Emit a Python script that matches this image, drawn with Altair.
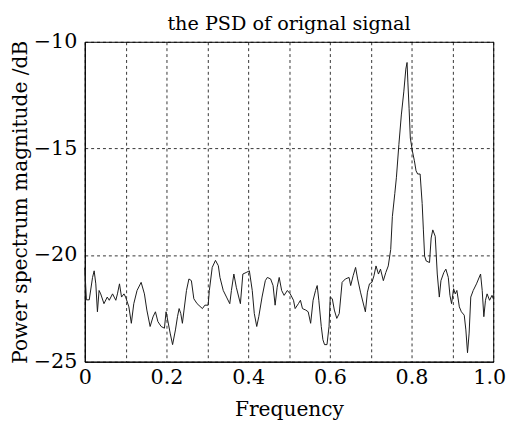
import altair as alt
import pandas as pd

freq = [0.000, 0.004, 0.011, 0.019, 0.023, 0.027, 0.031, 0.035, 0.039, 0.047,
        0.055, 0.060, 0.068, 0.072, 0.076, 0.080, 0.085, 0.090, 0.096, 0.100,
        0.108, 0.114, 0.120, 0.128, 0.138, 0.146, 0.152, 0.160, 0.167, 0.173,
        0.179, 0.187, 0.195, 0.199, 0.203, 0.209, 0.215, 0.222, 0.227, 0.231,
        0.235, 0.239, 0.243, 0.249, 0.255, 0.261, 0.267, 0.275, 0.288, 0.294,
        0.302, 0.305, 0.312, 0.320, 0.327, 0.331, 0.339, 0.347, 0.355, 0.359,
        0.365, 0.371, 0.381, 0.387, 0.395, 0.403, 0.410, 0.415, 0.421, 0.426,
        0.434, 0.442, 0.447, 0.455, 0.461, 0.466, 0.471, 0.476, 0.482, 0.488,
        0.496, 0.503, 0.511, 0.515, 0.523, 0.528, 0.533, 0.541, 0.547, 0.553,
        0.559, 0.565, 0.569, 0.573, 0.579, 0.583, 0.587, 0.593, 0.598, 0.601,
        0.606, 0.611, 0.617, 0.623, 0.630, 0.638, 0.647, 0.651, 0.657, 0.663,
        0.668, 0.675, 0.681, 0.687, 0.692, 0.697, 0.703, 0.708, 0.713, 0.719,
        0.724, 0.731, 0.737, 0.743, 0.749, 0.753, 0.759, 0.763, 0.769, 0.775,
        0.781, 0.786, 0.789, 0.791, 0.794, 0.797, 0.802, 0.807, 0.811, 0.815,
        0.821, 0.826, 0.829, 0.832, 0.836, 0.844, 0.848, 0.852, 0.858, 0.863,
        0.868, 0.872, 0.879, 0.884, 0.890, 0.894, 0.898, 0.903, 0.907, 0.911,
        0.917, 0.922, 0.929, 0.933, 0.937, 0.941, 0.945, 0.951, 0.959, 0.969,
        0.973, 0.977, 0.981, 0.985, 0.991, 0.997, 1.000]

psd_db = [-20.60, -22.10, -22.10, -21.05, -20.74, -21.35, -22.66, -21.66, -21.82, -22.28,
          -21.97, -22.12, -21.82, -21.97, -22.12, -21.82, -21.35, -21.97, -21.82, -21.97,
          -22.43, -23.20, -22.28, -21.66, -21.28, -21.82, -22.58, -23.35, -22.90, -22.66,
          -23.12, -23.35, -23.43, -22.66, -23.05, -23.66, -24.20, -23.51, -22.89, -22.51,
          -22.74, -23.20, -22.58, -21.66, -21.12, -21.20, -22.05, -22.28, -22.51, -22.35,
          -22.35, -21.66, -20.58, -20.25, -20.50, -21.05, -21.66, -21.97, -22.28, -21.66,
          -20.89, -21.51, -22.28, -20.89, -20.82, -20.74, -21.66, -22.74, -23.35, -22.89,
          -21.97, -21.20, -21.05, -21.12, -21.43, -22.35, -21.51, -21.05, -21.66, -21.89,
          -21.66, -21.82, -22.12, -22.51, -22.28, -22.12, -22.51, -22.58, -22.66, -23.20,
          -22.12, -21.66, -21.43, -22.12, -23.35, -23.97, -24.20, -24.20, -23.35, -21.97,
          -22.05, -22.58, -22.97, -22.74, -21.28, -21.12, -21.05, -21.43, -20.97, -20.58,
          -21.12, -21.74, -22.20, -22.66, -21.74, -21.35, -21.28, -20.97, -20.51, -20.89,
          -20.66, -21.20, -20.82, -20.51, -19.74, -18.20, -17.12, -16.35, -14.82, -13.43,
          -12.35, -11.28, -10.97, -11.89, -13.12, -14.51, -15.12, -15.58, -16.05, -16.20,
          -16.20, -17.58, -18.82, -20.05, -20.28, -20.35, -19.20, -18.82, -19.12, -20.89,
          -21.97, -21.20, -20.82, -20.66, -21.05, -21.89, -22.28, -21.58, -21.82, -21.66,
          -22.43, -22.66, -22.82, -23.51, -24.58, -23.66, -21.97, -21.66, -21.35, -20.89,
          -21.66, -22.89, -22.12, -21.82, -22.12, -21.89, -22.05]

x_ticks = [0.0, 0.1, 0.2, 0.3, 0.4, 0.5, 0.6, 0.7, 0.8, 0.9, 1.0]
y_ticks = [-25, -20, -15, -10]

df = pd.DataFrame({"Frequency": freq, "PSD": psd_db})

FONT = "DejaVu Serif"

chart = alt.Chart(df).mark_line(color="#1a1a1a", strokeWidth=1).encode(
    x=alt.X("Frequency:Q",
            scale=alt.Scale(domain=[0, 1], nice=False, zero=False),
            axis=alt.Axis(values=x_ticks, title="Frequency",
                          labelExpr="round(datum.value*10) % 2 == 0 ? (datum.value == 0 ? '0' : format(datum.value, '.1f')) : ''",
                          labelFlush=False, labelOverlap=False,
                          labelOffset={"condition": {"test": "datum.value >= 1", "value": -4}, "value": 0},
                          labelPadding=5, ticks=False,
                          titleY=55, titleBaseline="alphabetic")),
    y=alt.Y("PSD:Q",
            scale=alt.Scale(domain=[-25, -10], nice=False, zero=False),
            axis=alt.Axis(values=y_ticks, title="Power spectrum magnitude /dB",
                          format="d", labelPadding=8, ticks=False,
                          titleX=-59, titleY=162.5, titleAngle=270,
                          titleAlign="center", titleBaseline="alphabetic")),
).properties(
    width=415,
    height=325,
    title=alt.TitleParams("the PSD of orignal signal", font=FONT, fontSize=19.5,
                          fontWeight="normal", color="black",
                          frame="group", offset=1, dy=4, anchor="middle"),
    autosize=alt.AutoSizeParams(type="none"),
    padding={"left": 78, "top": 31, "right": 15, "bottom": 62},
    background="white",
).configure_axis(
    labelFont=FONT, labelFontSize=21, labelColor="black",
    titleFont=FONT, titleFontSize=20.5, titleFontWeight="normal", titleColor="black",
    domainColor="black", domainWidth=1,
    grid=True, gridColor="black", gridDash=[3, 3], gridWidth=0.8, gridOpacity=1,
).configure_view(
    stroke="black", strokeWidth=1,
)

chart.save("out.html", embed_options={"renderer": "svg", "actions": False})
